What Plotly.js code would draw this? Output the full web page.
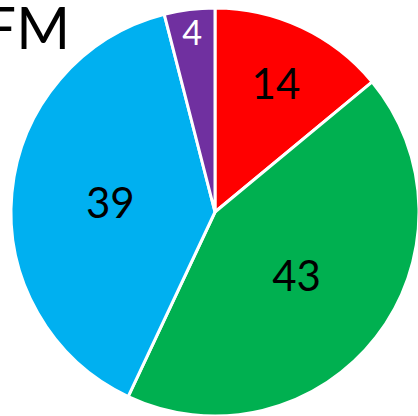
<!DOCTYPE html>
<html><head><meta charset="utf-8">
<script src="https://cdn.plot.ly/plotly-3.0.1.min.js"></script>
<style>html,body{margin:0;padding:0;overflow:hidden;background:#fff}</style>
</head><body>
<div id="chart"></div>
<script>
const labels = ["A", "B", "C", "D"];
const values = [14, 43, 39, 4];
const colors = ["#FF0000", "#00B050", "#00B0F0", "#7030A0"];
const textColors = ["#000000", "#000000", "#000000", "#FFFFFF"];
const titleText = "FM";

Plotly.newPlot("chart", [{
  type: "pie",
  labels: labels,
  values: values,
  sort: false,
  direction: "clockwise",
  rotation: 0,
  marker: {colors: colors, line: {color: "#FFFFFF", width: 3}},
  textinfo: "value",
  textposition: "inside",
  insidetextorientation: "horizontal",
  textfont: {family: "Lato, 'Open Sans', sans-serif", size: 42, color: textColors},
  hoverinfo: "none",
  showlegend: false
}], {
  width: 420, height: 420,
  margin: {l: 11, r: 1, t: 8, b: 4},
  paper_bgcolor: "#fff",
  title: {text: titleText, font: {family: "Lato, 'Open Sans', sans-serif", size: 58, color: "#000"},
          xref: "container", yref: "container", x: 70/420, xanchor: "right", y: 1 - 8/420, yanchor: "top"}
}, {displayModeBar: false, staticPlot: true});
</script>
</body></html>
